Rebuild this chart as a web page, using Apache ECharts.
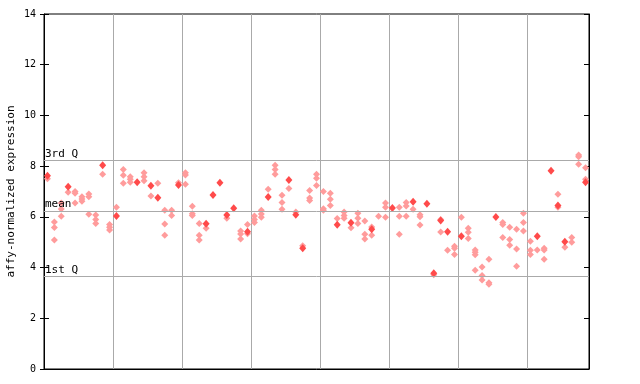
<!DOCTYPE html>
<html><head><meta charset="utf-8">
<script src="https://cdn.jsdelivr.net/npm/echarts@6/dist/echarts.min.js"></script>
<style>html,body{margin:0;padding:0;background:#fff}#c{width:640px;height:384px}</style>
</head><body><div id="c"></div>
<script>
// sample slots (79 samples, grouped by tens)
const categories = Array.from({length: 79}, (_, k) => 'S' + (k + 1));
// solid (highlighted) points: [sampleIndex, value]
const solidPoints = [
  [0,7.62],[3,7.19],[8,8.04],[10,6.03],[13,7.36],[15,7.23],[16,6.75],[19,7.26],
  [23,5.73],[24,6.86],[25,7.35],[26,6.07],[27,6.34],[29,5.41],[32,6.78],[35,7.45],
  [36,6.08],[37,4.76],[42,5.69],[44,5.77],[47,5.51],[50,6.35],[53,6.60],[55,6.52],
  [56,3.78],[57,5.86],[58,5.41],[60,5.24],[65,5.99],[71,5.24],[73,7.82],[74,6.45],
  [75,5.02],[78,7.36]
];
// hatched points: [sampleIndex, value]
const hatchedPoints = [
  [0,7.50],[1,5.80],[1,5.58],[1,5.09],[2,6.55],[2,6.31],[2,6.02],[3,6.97],
  [4,7.00],[4,6.93],[4,6.55],[5,6.79],[5,6.70],[5,6.62],[6,6.90],[6,6.79],[6,6.10],
  [7,6.07],[7,5.90],[7,5.74],[8,7.68],[9,5.70],[9,5.59],[9,5.48],[10,6.38],
  [11,7.87],[11,7.64],[11,7.33],[12,7.58],[12,7.48],[12,7.36],[14,7.74],[14,7.58],[14,7.42],
  [15,6.82],[16,7.33],[17,6.26],[17,5.72],[17,5.27],[18,6.26],[18,6.05],[19,7.35],
  [20,7.74],[20,7.65],[20,7.29],[21,6.42],[21,6.12],[21,6.05],[22,5.74],[22,5.27],[22,5.09],
  [23,5.55],[26,5.95],[28,5.44],[28,5.32],[28,5.13],[29,5.70],[29,5.33],
  [30,6.03],[30,5.90],[30,5.78],[31,6.26],[31,6.11],[31,5.98],[32,7.09],
  [33,8.04],[33,7.87],[33,7.68],[34,6.85],[34,6.57],[34,6.30],[35,7.12],[36,6.19],[37,4.86],
  [38,7.04],[38,6.74],[38,6.65],[39,7.68],[39,7.52],[39,7.24],[40,7.00],[40,6.32],[40,6.26],
  [41,6.93],[41,6.69],[41,6.45],[42,5.94],[43,6.19],[43,6.05],[43,5.95],[44,5.57],
  [45,6.14],[45,5.95],[45,5.74],[46,5.84],[46,5.31],[46,5.13],[47,5.60],[47,5.27],[48,6.02],
  [49,6.55],[49,6.38],[49,5.98],[51,6.38],[51,6.02],[51,5.31],[52,6.57],[52,6.43],[52,6.02],
  [53,6.30],[54,6.08],[54,6.00],[54,5.68],[56,3.72],[57,5.90],[57,5.40],[58,4.68],
  [59,4.84],[59,4.76],[59,4.52],[60,5.98],[61,5.55],[61,5.39],[61,5.15],
  [62,4.69],[62,4.60],[62,4.51],[62,3.89],[63,4.02],[63,3.69],[63,3.51],[64,4.33],[64,3.40],[64,3.34],
  [66,5.78],[66,5.70],[66,5.19],[67,5.59],[67,5.11],[67,4.88],[68,5.51],[68,4.73],[68,4.05],
  [69,6.14],[69,5.78],[69,5.44],[70,5.04],[70,4.68],[70,4.52],[71,4.69],
  [72,4.76],[72,4.69],[72,4.33],[74,6.89],[74,6.38],[75,4.80],[76,5.19],[76,5.00],
  [77,8.44],[77,8.37],[77,8.07],[78,7.94],[78,7.48]
];
// reference lines
const refLineNames = ['3rd Q', 'mean', '1st Q'];
const refLineValues = [8.23, 6.23, 3.64];
const yTicks = {min: 0, max: 14, interval: 2};
const yTitle = 'affy-normalized expression';

const mono = 'DejaVu Sans Mono';
const chart = echarts.init(document.getElementById('c'), null, {renderer: 'canvas'});
const yBase = {type: 'value', min: yTicks.min, max: yTicks.max, interval: yTicks.interval, splitLine: {show: false}};
chart.setOption({
  animation: false,
  grid: {left: 44, top: 14, right: 51, bottom: 15, containLabel: false, outerBoundsMode: 'none',
         show: true, borderColor: '#000', borderWidth: 1, backgroundColor: 'transparent'},
  xAxis: {
    type: 'category', data: categories, boundaryGap: true,
    axisLine: {show: true, lineStyle: {color: '#000'}},
    axisTick: {show: false}, axisLabel: {show: false},
    splitLine: {show: true, interval: 9, lineStyle: {color: '#aaaaaa', width: 1}}
  },
  yAxis: [
    Object.assign({}, yBase, {
      position: 'left', name: yTitle, nameLocation: 'middle', nameGap: 27, nameMoveOverlap: false,
      nameTextStyle: {fontFamily: mono, fontSize: 11, color: '#000'},
      axisLine: {show: true, lineStyle: {color: '#000'}},
      axisTick: {show: true, length: 4, lineStyle: {color: '#000'}},
      axisLabel: {fontFamily: mono, fontSize: 10, color: '#000', margin: 8}
    }),
    Object.assign({}, yBase, {
      position: 'left', axisLine: {show: false},
      axisTick: {show: true, inside: true, length: 5, lineStyle: {color: '#000'}},
      axisLabel: {show: false}
    }),
    Object.assign({}, yBase, {
      position: 'right', axisLine: {show: true, lineStyle: {color: '#000'}},
      axisTick: {show: true, inside: true, length: 5, lineStyle: {color: '#000'}},
      axisLabel: {show: false}
    })
  ],
  series: [
    {
      type: 'scatter', yAxisIndex: 0, data: hatchedPoints, symbol: 'diamond', symbolSize: [7, 7],
      itemStyle: {color: '#ff9c9c', opacity: 1}, silent: true,
      markLine: {
        silent: true, symbol: 'none', animation: false,
        lineStyle: {color: '#aaaaaa', width: 1, type: 'solid'},
        label: {show: true, position: 'insideStartTop', formatter: '{b}', fontFamily: mono, fontSize: 11, color: '#000', distance: [1, 1]},
        data: refLineNames.map((n, k) => ({name: n, yAxis: refLineValues[k]}))
      },
      z: 3
    },
    {
      type: 'scatter', yAxisIndex: 0, data: solidPoints, symbol: 'diamond', symbolSize: [7, 8],
      itemStyle: {color: '#ff4a4a', opacity: 1}, silent: true, z: 4
    }
  ]
});
</script></body></html>
